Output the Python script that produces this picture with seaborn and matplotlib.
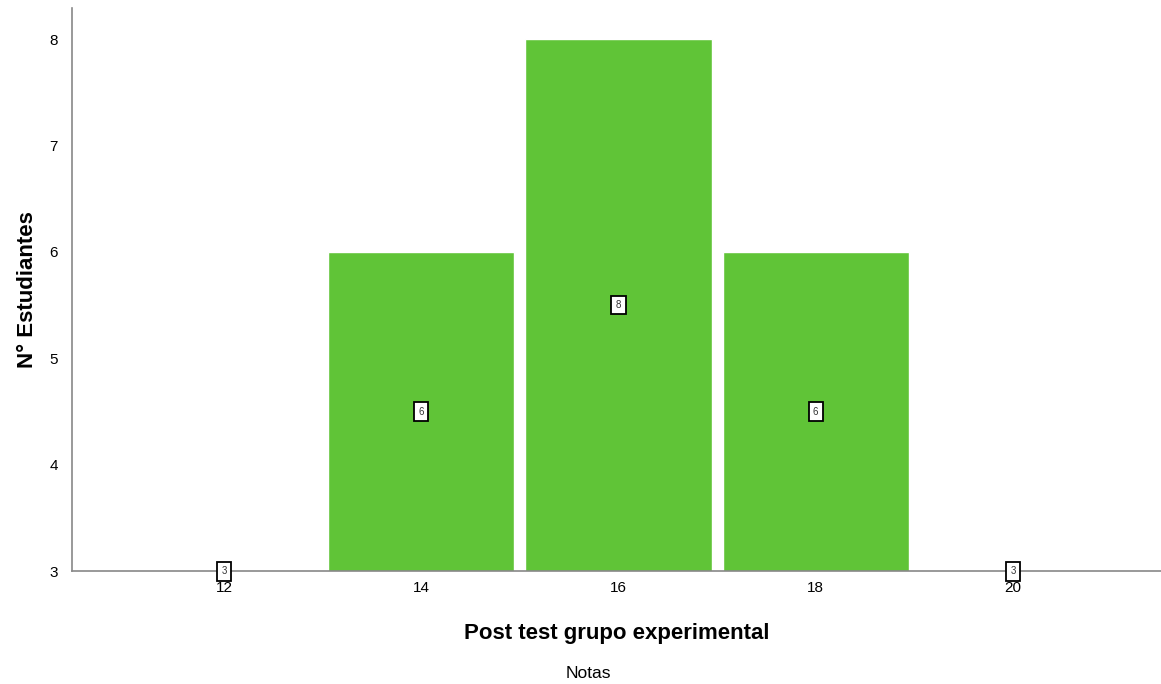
import matplotlib
matplotlib.use("Agg")
import matplotlib.pyplot as plt
import seaborn as sns
import pandas as pd

# datos del grafico
notas = ['12', '14', '16', '18', '20']
estudiantes = [3, 6, 8, 6, 3]

df = pd.DataFrame({'Notas': notas, 'N': estudiantes})

sns.set_style("white")
plt.rcParams['font.family'] = ['Liberation Sans', 'DejaVu Sans']
plt.rcParams['text.color'] = 'black'
plt.rcParams['axes.labelcolor'] = 'black'

fig = plt.figure(figsize=(11.61, 6.84), dpi=100)
ax = fig.add_axes([0.062, 0.165, 0.938, 0.823])

sns.barplot(data=df, x='Notas', y='N', color='#60c437', saturation=1,
            width=0.945, ax=ax)

ymin = 3
ax.set_ylim(ymin, 8.29)
ax.set_xlim(-0.77, 4.75)

# etiquetas en cajas al centro de la parte visible de la barra
for i, v in enumerate(estudiantes):
    ax.text(i, (ymin + v) / 2, str(v), ha='center', va='center', fontsize=7,
            color='#333333',
            bbox=dict(boxstyle='square,pad=0.45', facecolor='white',
                      edgecolor='black', linewidth=1.3))

sns.despine(ax=ax)
for s in ['left', 'bottom']:
    ax.spines[s].set_color('#888888')
    ax.spines[s].set_linewidth(1.2)

ax.tick_params(axis='both', length=0, labelsize=11, colors='black')
ax.tick_params(axis='x', pad=7)
ax.tick_params(axis='y', pad=10)
ax.set_yticks([3, 4, 5, 6, 7, 8])

ax.set_xlabel('Post test grupo experimental', fontsize=16, fontweight='bold',
              labelpad=20, color='black')
ax.set_ylabel('N° Estudiantes', fontsize=16, fontweight='bold', labelpad=8,
              color='black')

fig.text(0.507, 0.004, 'Notas', ha='center', va='bottom', fontsize=12.5,
         color='black')

fig.savefig('out.png', dpi=100, facecolor='white')
